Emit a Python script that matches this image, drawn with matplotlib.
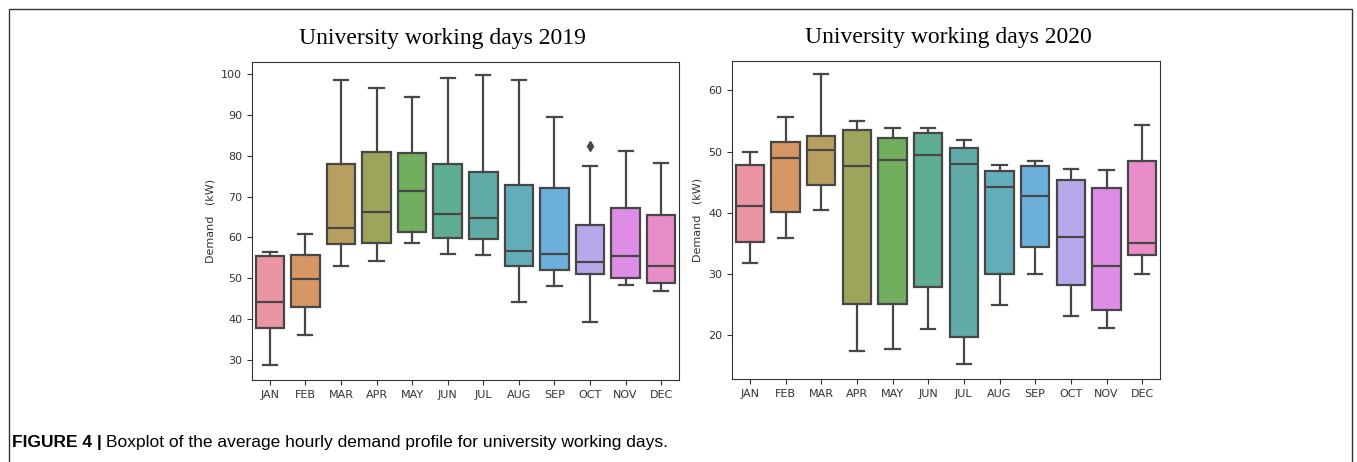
import numpy as np
import matplotlib
matplotlib.use("Agg")
import matplotlib.pyplot as plt
import matplotlib.patches as mpatches
import seaborn as sns

months = ["JAN", "FEB", "MAR", "APR", "MAY", "JUN", "JUL", "AUG", "SEP", "OCT", "NOV", "DEC"]

# 2019: lower whisker, Q1, median, Q3, upper whisker
lo19 = [28.6, 36.0, 53.0, 54.1, 58.5, 56.0, 55.7, 44.2, 48.1, 39.2, 48.3, 46.8]
q1_19 = [37.7, 43.0, 58.3, 58.5, 61.4, 59.8, 59.5, 52.9, 52.0, 51.1, 50.0, 48.7]
med19 = [44.2, 49.8, 62.3, 66.1, 71.4, 65.8, 64.8, 56.7, 56.0, 54.0, 55.3, 52.9]
q3_19 = [55.3, 55.6, 78.1, 81.0, 80.6, 78.1, 76.1, 72.9, 72.1, 62.9, 67.3, 65.4]
hi19 = [56.5, 60.9, 98.5, 96.7, 94.4, 99.0, 99.8, 98.7, 89.4, 77.5, 81.1, 78.3]
fliers19 = {"OCT": [82.4]}

# 2020
lo20 = [31.8, 35.9, 40.5, 17.4, 17.8, 21.1, 15.3, 24.9, 30.1, 23.2, 21.2, 30.0]
q1_20 = [35.3, 40.1, 44.5, 25.2, 25.1, 27.9, 19.8, 30.0, 34.5, 28.3, 24.2, 33.2]
med20 = [41.2, 48.9, 50.3, 47.7, 48.6, 49.4, 48.0, 44.2, 42.7, 36.1, 31.3, 35.1]
q3_20 = [47.8, 51.6, 52.5, 53.6, 52.2, 53.0, 50.6, 46.9, 47.6, 45.3, 44.1, 48.5]
hi20 = [49.9, 55.6, 62.6, 55.0, 53.9, 53.9, 51.9, 47.8, 48.4, 47.1, 47.0, 54.3]
fliers20 = {}

W, H = 1357, 462
fig = plt.figure(figsize=(W / 100, H / 100), dpi=100)

# frame around the figure panel
fig.patches.append(mpatches.Rectangle((9 / W, -0.05), (1352 - 9) / W, 1.05 - 9 / H,
                                      transform=fig.transFigure, fill=False,
                                      edgecolor="#333333", linewidth=1.0))

pal = sns.color_palette("husl", 12, desat=0.75)
pal = [tuple(0.85 * np.array(c) + 0.15) for c in pal]  # scan looks a bit washed out
edge = "#474747"


def draw(ax, lo, q1, med, q3, hi, fl, title, ylim, yticks, tx):
    stats = []
    for i, m in enumerate(months):
        stats.append(dict(whislo=lo[i], q1=q1[i], med=med[i], q3=q3[i], whishi=hi[i],
                          fliers=fl.get(m, []), label=m))
    bp = ax.bxp(stats, positions=range(12), widths=0.8, patch_artist=True,
                boxprops=dict(edgecolor=edge, linewidth=1.6),
                medianprops=dict(color=edge, linewidth=1.6),
                whiskerprops=dict(color=edge, linewidth=1.6),
                capprops=dict(color=edge, linewidth=1.6),
                flierprops=dict(marker="d", markerfacecolor=edge, markeredgecolor=edge,
                                markersize=5))
    for patch, c in zip(bp["boxes"], pal):
        patch.set_facecolor(c)
    ax.set_xlim(-0.5, 11.5)
    ax.set_ylim(*ylim)
    ax.set_yticks(yticks)
    ax.set_xticks(range(12))
    ax.set_xticklabels(months)
    ax.tick_params(labelsize=8, colors="#333333", length=3.5)
    for s in ax.spines.values():
        s.set_color("#333333")
    ax.set_ylabel("Demand   (kW)", fontsize=8, color="#333333")
    ax.set_title(title, fontsize=17, family="Liberation Serif", pad=13, x=tx)


ax1 = fig.add_axes([252 / W, (H - 380) / H, 427 / W, 318 / H])
draw(ax1, lo19, q1_19, med19, q3_19, hi19, fliers19, "University working days 2019",
     (25.0, 103.0), [30, 40, 50, 60, 70, 80, 90, 100], 0.445)

ax2 = fig.add_axes([732 / W, (H - 379) / H, 428 / W, 318 / H])
draw(ax2, lo20, q1_20, med20, q3_20, hi20, fliers20, "University working days 2020",
     (12.9, 64.8), [20, 30, 40, 50, 60], 0.505)

t1 = fig.text(12 / W, 1 - 443 / H, "FIGURE 4 |", fontsize=12.5, fontweight="bold",
              family="Liberation Sans", va="center")
fig.canvas.draw()
bb = t1.get_window_extent(fig.canvas.get_renderer())
fig.text(bb.x1 / W + 4 / W, 1 - 443 / H,
         "Boxplot of the average hourly demand profile for university working days.",
         fontsize=12.5, family="Liberation Sans", va="center")

fig.savefig("out.png", dpi=100)
